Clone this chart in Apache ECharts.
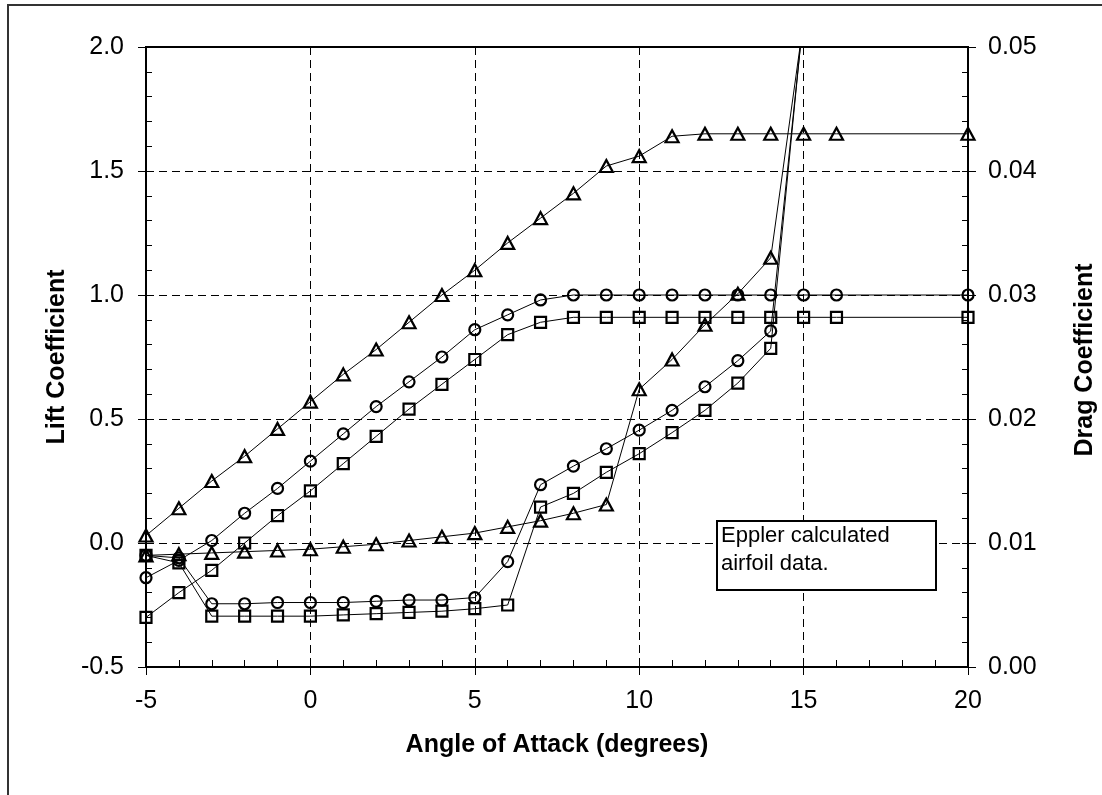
<!DOCTYPE html>
<html>
<head>
<meta charset="utf-8">
<script src="https://cdn.jsdelivr.net/npm/echarts@6/dist/echarts.min.js"></script>
<style>
html,body{margin:0;padding:0;background:#fff;}
#chart{width:1102px;height:795px;}
</style>
</head>
<body>
<div id="chart"></div>
<script>
// ---- data ----
const liftAngles = [-5,-4,-3,-2,-1,0,1,2,3,4,5,6,7,8,9,10,11,12,13,14,15,16,20];
const liftTriangle = [0.03,0.14,0.25,0.35,0.46,0.57,0.68,0.78,0.89,1.00,1.10,1.21,1.31,1.41,1.52,1.56,1.64,1.65,1.65,1.65,1.65,1.65,1.65];
const liftCircle   = [-0.14,-0.07,0.01,0.12,0.22,0.33,0.44,0.55,0.65,0.75,0.86,0.92,0.98,1.00,1.00,1.00,1.00,1.00,1.00,1.00,1.00,1.00,1.00];
const liftSquare   = [-0.30,-0.20,-0.11,0.00,0.11,0.21,0.32,0.43,0.54,0.64,0.74,0.84,0.89,0.91,0.91,0.91,0.91,0.91,0.91,0.91,0.91,0.91,0.91];

const dragAngles = [-5,-4,-3,-2,-1,0,1,2,3,4,5,6,7,8,9,10,11,12,13,14,15];
const dragTriangle = [0.0090,0.0091,0.0092,0.0093,0.0094,0.0095,0.0097,0.0099,0.0102,0.0105,0.0108,0.0113,0.0118,0.0124,0.0131,0.0224,0.0248,0.0276,0.0301,0.0330,0.0521];
const dragCircle   = [0.0090,0.0088,0.0051,0.0051,0.0052,0.0052,0.0052,0.0053,0.0054,0.0054,0.0056,0.0085,0.0147,0.0162,0.0176,0.0191,0.0207,0.0226,0.0247,0.0271,0.0525];
const dragSquare   = [0.0090,0.0084,0.0041,0.0041,0.0041,0.0041,0.0042,0.0043,0.0044,0.0045,0.0047,0.0050,0.0129,0.0140,0.0157,0.0172,0.0189,0.0207,0.0229,0.0257,0.0527];

const xTitle = 'Angle of Attack (degrees)';
const yLeftTitle = 'Lift Coefficient';
const yRightTitle = 'Drag Coefficient';
const noteLines = ['Eppler calculated', 'airfoil data.'];

// ---- chart ----
const FONT = "'Liberation Sans', Arial, Helvetica, sans-serif";
const TICK_FS = 25;
const pairs = (xs, ys) => xs.map((x, i) => [x, ys[i]]);

function lineSeries(name, xs, ys, yIdx, symbol, size) {
  return {
    name, type: 'line', xAxisIndex: 0, yAxisIndex: yIdx,
    data: pairs(xs, ys),
    symbol, symbolSize: size, showSymbol: true, clip: true,
    lineStyle: {color: '#000', width: 1},
    itemStyle: {color: 'rgba(0,0,0,0)', borderColor: '#000', borderWidth: 2.2},
    emphasis: {disabled: true}, animation: false, z: 3
  };
}

const chart = echarts.init(document.getElementById('chart'), null, {renderer: 'canvas'});
const gridDash = {show: true, lineStyle: {color: '#000', width: 1, type: [8, 5]}};

chart.setOption({
  backgroundColor: '#fff',
  animation: false,
  grid: {left: 146, top: 47, right: 134, bottom: 128, show: true, borderColor: '#000', borderWidth: 2, backgroundColor: 'transparent'},
  xAxis: [
    {type: 'value', min: -5, max: 20, interval: 5, position: 'bottom',
     axisLine: {show: true, onZero: false, lineStyle: {color: '#000', width: 2}},
     axisTick: {show: true, inside: false, length: 8, lineStyle: {color: '#000', width: 1}},
     axisLabel: {color: '#000', fontSize: TICK_FS, fontFamily: FONT, margin: 22},
     splitLine: gridDash},
    {type: 'value', min: -5, max: 20, interval: 1, position: 'bottom', gridIndex: 0,
     axisLine: {show: false, onZero: false},
     axisTick: {show: true, inside: true, length: 7, lineStyle: {color: '#000', width: 1}},
     axisLabel: {show: false}, splitLine: {show: false}}
  ],
  yAxis: [
    {type: 'value', min: -0.5, max: 2.0, interval: 0.5, position: 'left',
     axisLine: {show: true, onZero: false, lineStyle: {color: '#000', width: 2}},
     axisTick: {show: true, inside: false, length: 8, lineStyle: {color: '#000', width: 1}},
     axisLabel: {color: '#000', fontSize: TICK_FS, fontFamily: FONT, margin: 22, formatter: v => v.toFixed(1)},
     splitLine: gridDash},
    {type: 'value', min: 0, max: 0.05, interval: 0.01, position: 'right',
     axisLine: {show: true, onZero: false, lineStyle: {color: '#000', width: 2}},
     axisTick: {show: true, inside: false, length: 8, lineStyle: {color: '#000', width: 1}},
     axisLabel: {color: '#000', fontSize: TICK_FS, fontFamily: FONT, margin: 20, formatter: v => v.toFixed(2)},
     splitLine: {show: false}},
    {type: 'value', min: -0.5, max: 2.0, interval: 0.1, position: 'left',
     axisLine: {show: false, onZero: false},
     axisTick: {show: true, inside: true, length: 6, lineStyle: {color: '#000', width: 1}},
     axisLabel: {show: false}, splitLine: {show: false}},
    {type: 'value', min: 0, max: 0.05, interval: 0.002, position: 'right',
     axisLine: {show: false, onZero: false},
     axisTick: {show: true, inside: true, length: 6, lineStyle: {color: '#000', width: 1}},
     axisLabel: {show: false}, splitLine: {show: false}}
  ],
  series: [
    lineSeries('Lift (triangle)', liftAngles, liftTriangle, 0, 'triangle', [13, 12]),
    lineSeries('Lift (circle)', liftAngles, liftCircle, 0, 'circle', 11),
    lineSeries('Lift (square)', liftAngles, liftSquare, 0, 'rect', 11),
    lineSeries('Drag (triangle)', dragAngles, dragTriangle, 1, 'triangle', [13, 12]),
    lineSeries('Drag (circle)', dragAngles, dragCircle, 1, 'circle', 11),
    lineSeries('Drag (square)', dragAngles, dragSquare, 1, 'rect', 11)
  ],
  graphic: [
    {type: 'rect', x: 8, y: 5, shape: {x: 0, y: 0, width: 1300, height: 1000}, silent: true, z: -10,
     style: {fill: 'none', stroke: '#333', lineWidth: 2}},
    {type: 'text', x: 557, y: 745, silent: true, z: 10,
     style: {text: xTitle, font: `bold 25px ${FONT}`, fill: '#000', textAlign: 'center', textVerticalAlign: 'middle'}},
    {type: 'text', x: 57, y: 357, rotation: Math.PI / 2, silent: true, z: 10,
     style: {text: yLeftTitle, font: `bold 25px ${FONT}`, fill: '#000', textAlign: 'center', textVerticalAlign: 'middle'}},
    {type: 'text', x: 1085, y: 360, rotation: Math.PI / 2, silent: true, z: 10,
     style: {text: yRightTitle, font: `bold 25px ${FONT}`, fill: '#000', textAlign: 'center', textVerticalAlign: 'middle'}},
    {type: 'rect', x: 717, y: 521, shape: {x: 0, y: 0, width: 219, height: 69}, silent: true, z: 20,
     style: {fill: '#fff', stroke: '#000', lineWidth: 2}},
    {type: 'text', x: 721, y: 522, silent: true, z: 21,
     style: {text: noteLines.join('\n'), font: `22px ${FONT}`, lineHeight: 28, fill: '#000', textAlign: 'left', textVerticalAlign: 'top'}}
  ]
});
</script>
</body>
</html>
